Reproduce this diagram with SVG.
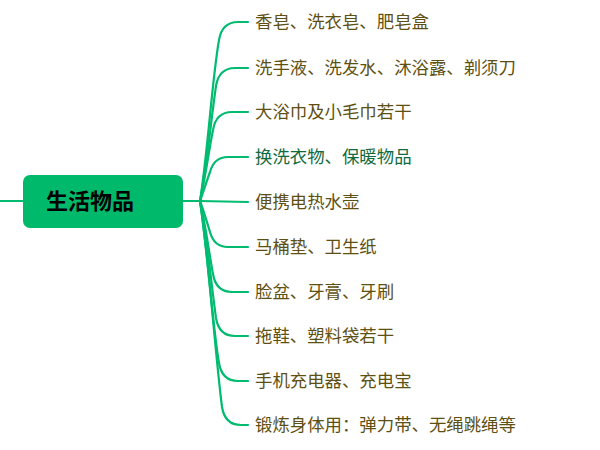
<svg xmlns="http://www.w3.org/2000/svg" width="600" height="450" viewBox="0 0 600 450">
<style>
.c{fill:none;stroke:#00bb70;stroke-width:2.2;stroke-linecap:round}
.t{font-family:"Noto Sans CJK SC","Noto Sans",sans-serif;font-size:17.4px;fill:#5e5012}
.g{fill:#116a3e}
.r{font-family:"Noto Sans CJK SC","Noto Sans",sans-serif;font-size:22px;font-weight:bold;fill:#000}
</style>
<rect width="600" height="450" fill="#fff"/>
<g id="connectors">
<path class="c" d="M0,201 H23"/>
<path class="c" d="M183,201 H200"/>
<path class="c" d="M200,201 C208,150 212,80 219,40 Q222,22 238,22 H248"/>
<path class="c" d="M200,201 C207,165 211,120 216,86 Q219,68 235,68 H248"/>
<path class="c" d="M200,201 C205,180 209,150 213,130 Q216,112 232,112 H248"/>
<path class="c" d="M200,201 C204,190 207,180 210,172 Q214,157 228,157 H248"/>
<path class="c" d="M200,201 L248,202"/>
<path class="c" d="M200,201 C204,212 207,222 210,232 Q214,247 228,247 H248"/>
<path class="c" d="M200,201 C205,222 209,252 213,274 Q216,292 232,292 H248"/>
<path class="c" d="M200,201 C207,237 211,282 216,318 Q219,336 235,336 H248"/>
<path class="c" d="M200,201 C208,252 212,322 219,363 Q222,381 238,381 H248"/>
<path class="c" d="M200,201 C209,262 215,352 222,407 Q225,425 241,425 H248"/>
</g>
<g id="root">
<rect x="23" y="175" width="160" height="53" rx="7" fill="#00b96b"/>
<text class="r" x="90" y="209" text-anchor="middle">生活物品</text>
</g>
<g id="n1"><text class="t" x="255" y="28">香皂、洗衣皂、肥皂盒</text></g>
<g id="n2"><text class="t" x="255" y="74">洗手液、洗发水、沐浴露、剃须刀</text></g>
<g id="n3"><text class="t" x="255" y="118">大浴巾及小毛巾若干</text></g>
<g id="n4"><text class="t g" x="255" y="163">换洗衣物、保暖物品</text></g>
<g id="n5"><text class="t" x="255" y="208">便携电热水壶</text></g>
<g id="n6"><text class="t" x="255" y="253">马桶垫、卫生纸</text></g>
<g id="n7"><text class="t" x="255" y="298">脸盆、牙膏、牙刷</text></g>
<g id="n8"><text class="t" x="255" y="342">拖鞋、塑料袋若干</text></g>
<g id="n9"><text class="t" x="255" y="387">手机充电器、充电宝</text></g>
<g id="n10"><text class="t" x="255" y="431">锻炼身体用：弹力带、无绳跳绳等</text></g>
</svg>
